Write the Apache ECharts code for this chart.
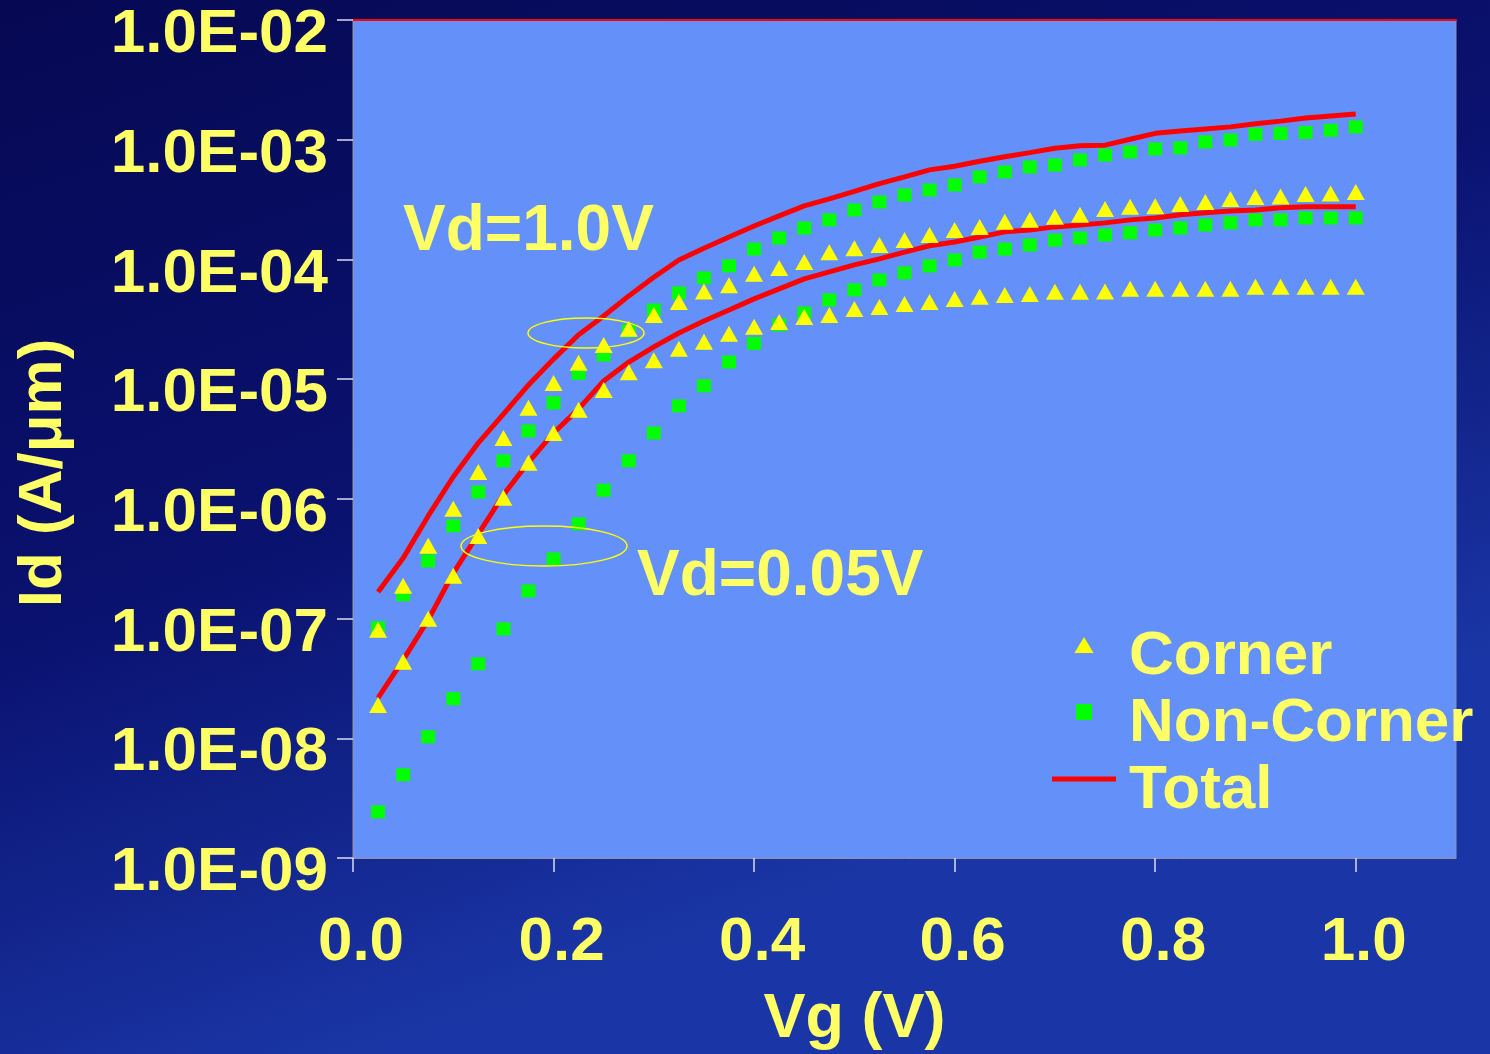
<!DOCTYPE html>
<html>
<head>
<meta charset="utf-8">
<script src="https://cdn.jsdelivr.net/npm/echarts@6/dist/echarts.min.js"></script>
<style>
  html, body { margin: 0; padding: 0; background: #070a55; }
  #chart { width: 1490px; height: 1054px; }
</style>
</head>
<body>
<div id="chart"></div>
<script>
// Gate voltage (V)
const vg = [0.025, 0.05, 0.075, 0.1, 0.125, 0.15, 0.175, 0.2, 0.225, 0.25,
            0.275, 0.3, 0.325, 0.35, 0.375, 0.4, 0.425, 0.45, 0.475, 0.5,
            0.525, 0.55, 0.575, 0.6, 0.625, 0.65, 0.675, 0.7, 0.725, 0.75,
            0.775, 0.8, 0.825, 0.85, 0.875, 0.9, 0.925, 0.95, 0.975, 1.0];

// Vd = 1.0 V  (A/um)
const cornerVd1 = [8.05e-8, 1.88e-7, 4.05e-7, 8.25e-7, 1.68e-6, 3.23e-6, 5.76e-6, 9.3e-6, 1.37e-5, 1.93e-5,
                   2.63e-5, 3.44e-5, 4.4e-5, 5.4e-5, 6.1e-5, 7.6e-5, 8.5e-5, 9.5e-5, 1.15e-4, 1.24e-4,
                   1.32e-4, 1.45e-4, 1.6e-4, 1.76e-4, 1.87e-4, 2.06e-4, 2.14e-4, 2.27e-4, 2.36e-4, 2.64e-4,
                   2.75e-4, 2.78e-4, 2.91e-4, 3.02e-4, 3.2e-4, 3.32e-4, 3.35e-4, 3.52e-4, 3.55e-4, 3.66e-4];
const nonCornerVd1 = [8.4e-8, 1.58e-7, 3.03e-7, 5.95e-7, 1.14e-6, 2.08e-6, 3.69e-6, 6.34e-6, 1.12e-5, 1.59e-5,
                      2.53e-5, 3.78e-5, 5.25e-5, 7.0e-5, 8.83e-5, 1.22e-4, 1.51e-4, 1.83e-4, 2.14e-4, 2.59e-4,
                      3.02e-4, 3.45e-4, 3.8e-4, 4.19e-4, 4.89e-4, 5.38e-4, 5.92e-4, 6.15e-4, 6.78e-4, 7.45e-4,
                      7.9e-4, 8.37e-4, 8.54e-4, 9.58e-4, 9.95e-4, 1.11e-3, 1.13e-3, 1.15e-3, 1.2e-3, 1.28e-3];
const totalVd1 = [1.67e-7, 3.2e-7, 7.2e-7, 1.53e-6, 2.94e-6, 5.1e-6, 8.95e-6, 1.47e-5, 2.35e-5, 3.37e-5,
                  4.96e-5, 7.1e-5, 9.9e-5, 1.24e-4, 1.54e-4, 1.9e-4, 2.31e-4, 2.8e-4, 3.2e-4, 3.7e-4,
                  4.3e-4, 4.9e-4, 5.6e-4, 6.0e-4, 6.6e-4, 7.2e-4, 7.8e-4, 8.5e-4, 8.9e-4, 9.0e-4,
                  1.01e-3, 1.13e-3, 1.18e-3, 1.23e-3, 1.28e-3, 1.36e-3, 1.43e-3, 1.52e-3, 1.58e-3, 1.64e-3];

// Vd = 0.05 V  (A/um)
const cornerVd005 = [1.9e-8, 4.35e-8, 9.95e-8, 2.28e-7, 4.9e-7, 1.02e-6, 2.0e-6, 3.55e-6, 5.54e-6, 8.13e-6,
                     1.14e-5, 1.44e-5, 1.79e-5, 2.05e-5, 2.39e-5, 2.74e-5, 3.0e-5, 3.31e-5, 3.44e-5, 3.86e-5,
                     4.01e-5, 4.25e-5, 4.41e-5, 4.68e-5, 4.87e-5, 5.05e-5, 5.15e-5, 5.36e-5, 5.36e-5, 5.4e-5,
                     5.68e-5, 5.68e-5, 5.7e-5, 5.7e-5, 5.7e-5, 5.9e-5, 5.9e-5, 5.9e-5, 5.9e-5, 5.9e-5];
const nonCornerVd005 = [2.43e-9, 4.96e-9, 1.03e-8, 2.14e-8, 4.19e-8, 8.2e-8, 1.7e-7, 3.15e-7, 6.18e-7, 1.18e-6,
                        2.08e-6, 3.55e-6, 5.98e-6, 8.8e-6, 1.39e-5, 1.99e-5, 2.84e-5, 3.57e-5, 4.59e-5, 5.57e-5,
                        6.74e-5, 7.72e-5, 8.83e-5, 9.9e-5, 1.15e-4, 1.22e-4, 1.32e-4, 1.45e-4, 1.51e-4, 1.6e-4,
                        1.67e-4, 1.76e-4, 1.83e-4, 1.94e-4, 2.02e-4, 2.14e-4, 2.14e-4, 2.22e-4, 2.22e-4, 2.22e-4];
const totalVd005 = [2.18e-8, 4.52e-8, 9.76e-8, 2.4e-7, 5.1e-7, 1.08e-6, 2.02e-6, 3.55e-6, 5.65e-6, 9.67e-6,
                    1.39e-5, 1.86e-5, 2.43e-5, 3.06e-5, 3.78e-5, 4.68e-5, 5.68e-5, 6.88e-5, 7.86e-5, 9.0e-5,
                    1.01e-4, 1.15e-4, 1.3e-4, 1.4e-4, 1.54e-4, 1.7e-4, 1.76e-4, 1.87e-4, 1.94e-4, 2.02e-4,
                    2.14e-4, 2.22e-4, 2.36e-4, 2.45e-4, 2.54e-4, 2.59e-4, 2.7e-4, 2.75e-4, 2.75e-4, 2.75e-4];

// Tick labels
const xTickValues = [0, 0.2, 0.4, 0.6, 0.8, 1.0];
const xTickLabels = ['0.0', '0.2', '0.4', '0.6', '0.8', '1.0'];
const yTickValues = [1e-9, 1e-8, 1e-7, 1e-6, 1e-5, 1e-4, 1e-3, 1e-2];
const yTickLabels = ['1.0E-09', '1.0E-08', '1.0E-07', '1.0E-06', '1.0E-05', '1.0E-04', '1.0E-03', '1.0E-02'];

const legendNames = ['Corner', 'Non-Corner', 'Total'];
const annotations = ['Vd=1.0V', 'Vd=0.05V'];

const pair = (ys) => vg.map((x, i) => [x, ys[i]]);

const YELLOW_TEXT = '#FFFF66';
const FONT = 'Liberation Sans, Arial, sans-serif';

const chart = echarts.init(document.getElementById('chart'), null, { renderer: 'canvas' });

const lineSeries = (ys) => ({
  name: 'Total', type: 'line', data: pair(ys), showSymbol: false, symbol: 'none',
  lineStyle: { color: '#FF0000', width: 5 }, itemStyle: { color: '#FF0000' }, z: 2, silent: true
});
const squareSeries = (ys) => ({
  name: 'Non-Corner', type: 'scatter', data: pair(ys), symbol: 'rect', symbolSize: [14, 13],
  itemStyle: { color: '#00FF00', opacity: 1 }, z: 3, silent: true
});
const triSeries = (ys) => ({
  name: 'Corner', type: 'scatter', data: pair(ys), symbol: 'triangle', symbolSize: [18, 16],
  itemStyle: { color: '#FFFF00', opacity: 1 }, z: 4, silent: true
});

chart.setOption({
  animation: false,
  backgroundColor: {
    type: 'linear', x: 0, y: 0, x2: 0.25, y2: 1,
    colorStops: [
      { offset: 0, color: '#060852' },
      { offset: 0.55, color: '#0a1270' },
      { offset: 1, color: '#1a36a6' }
    ]
  },
  grid: {
    left: 353, top: 20, width: 1103, height: 838,
    outerBoundsMode: 'none', containLabel: false,
    show: true, backgroundColor: '#6391F9', borderColor: '#8a90b8', borderWidth: 1
  },
  legend: {
    data: [
      { name: legendNames[0], icon: 'path://M9,0L18,15L0,15Z' },
      { name: legendNames[1], icon: 'path://M0,0H14V14H0Z' },
      { name: legendNames[2], icon: 'path://M0,0H64V5H0Z' }
    ],
    symbolKeepAspect: true,
    orient: 'vertical', left: 1047, top: 621, padding: 5,
    itemWidth: 64, itemHeight: 16, itemGap: 5,
    selectedMode: false,
    formatter: '{a|{name}}',
    textStyle: {
      color: YELLOW_TEXT, fontSize: 62, fontWeight: 'bold', fontFamily: FONT,
      rich: { a: { color: YELLOW_TEXT, fontSize: 62, fontWeight: 'bold', fontFamily: FONT, padding: [24, 0, 0, 8] } }
    }
  },
  xAxis: [{
    type: 'value', min: 0, max: 1.1, interval: 0.2, position: 'bottom',
    name: 'Vg (V)', nameLocation: 'middle', nameGap: 130,
    nameTextStyle: { color: YELLOW_TEXT, fontSize: 63, fontWeight: 'bold', fontFamily: FONT, padding: [0, 100, 0, 0] },
    axisLine: { show: true, lineStyle: { color: '#8a90b8', width: 1 } },
    axisTick: { show: true, inside: false, length: 14, customValues: xTickValues, lineStyle: { color: '#d8dcf0', width: 1.5 } },
    splitLine: { show: false },
    axisLabel: {
      customValues: xTickValues,
      formatter: (v) => { const i = xTickValues.findIndex(t => Math.abs(t - v) < 1e-9); return i >= 0 ? xTickLabels[i] : ''; },
      color: YELLOW_TEXT, fontSize: 62, fontWeight: 'bold', fontFamily: FONT, margin: 54, padding: [0, 0, 0, 16]
    }
  }, {
    type: 'value', min: 0, max: 1.1, position: 'top',
    axisLine: { show: true, lineStyle: { color: '#FF0000', width: 2 } },
    axisTick: { show: false }, axisLabel: { show: false }, splitLine: { show: false }
  }],
  yAxis: {
    type: 'log', logBase: 10, min: 1e-9, max: 1e-2,
    name: 'Id (A/μm)', nameLocation: 'middle', nameRotate: 90, nameGap: 278,
    nameTextStyle: { color: YELLOW_TEXT, fontSize: 62, fontWeight: 'bold', fontFamily: FONT, padding: [0, 68, 0, 0] },
    axisLine: { show: true, lineStyle: { color: '#8a90b8', width: 1 } },
    axisTick: { show: true, inside: false, length: 16, lineStyle: { color: '#d8dcf0', width: 1.5 } },
    minorTick: { show: false },
    splitLine: { show: false },
    axisLabel: {
      formatter: (v) => { const i = yTickValues.findIndex(t => Math.abs(Math.log10(t) - Math.log10(v)) < 1e-6); return i >= 0 ? yTickLabels[i] : ''; },
      color: YELLOW_TEXT, fontSize: 62, fontWeight: 'bold', fontFamily: FONT, margin: 25,
      verticalAlign: 'top', lineHeight: 30
    }
  },
  graphic: [
    { type: 'text', left: 403, top: 200, z: 10, silent: true,
      style: { text: annotations[0], fill: YELLOW_TEXT, font: 'bold 64px ' + FONT } },
    { type: 'text', left: 637, top: 545, z: 10, silent: true,
      style: { text: annotations[1], fill: YELLOW_TEXT, font: 'bold 64px ' + FONT } },
    { type: 'ellipse', shape: { cx: 586, cy: 333, rx: 58, ry: 15 }, z: 10, silent: true,
      style: { fill: 'none', stroke: '#FFFF00', lineWidth: 1.5 } },
    { type: 'ellipse', shape: { cx: 544, cy: 546, rx: 83, ry: 20 }, z: 10, silent: true,
      style: { fill: 'none', stroke: '#FFFF00', lineWidth: 1.5 } }
  ],
  series: [
    lineSeries(totalVd1),
    lineSeries(totalVd005),
    squareSeries(nonCornerVd1),
    squareSeries(nonCornerVd005),
    triSeries(cornerVd1),
    triSeries(cornerVd005)
  ]
});
</script>
</body>
</html>
